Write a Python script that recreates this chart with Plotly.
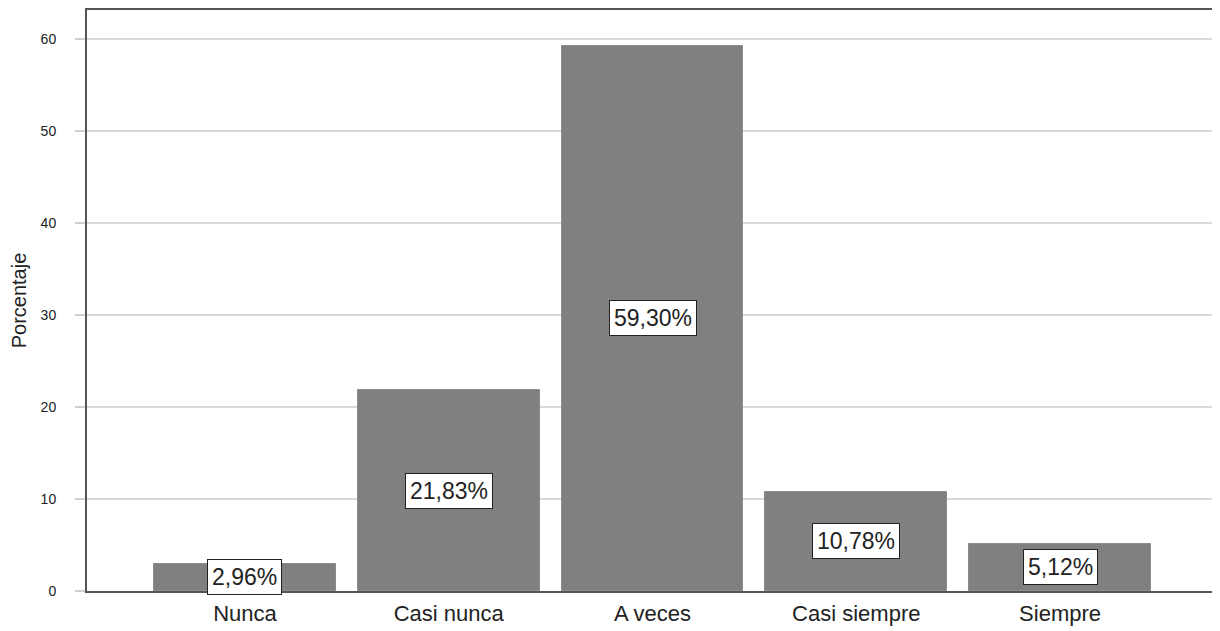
import plotly.graph_objects as go

categories = ["Nunca", "Casi nunca", "A veces", "Casi siempre", "Siempre"]
percentages = [2.96, 21.83, 59.30, 10.78, 5.12]
labels = ["2,96%", "21,83%", "59,30%", "10,78%", "5,12%"]
y_ticks = [0, 10, 20, 30, 40, 50, 60]

FONT = "Liberation Sans, Arial, sans-serif"

fig = go.Figure()
fig.add_trace(go.Bar(
    x=categories, y=percentages,
    marker=dict(color="#808080", line=dict(color="#8c8c8c", width=1)),
    width=0.893,
    hoverinfo="skip",
))

for c, v, t in zip(categories, percentages, labels):
    fig.add_annotation(
        x=c, y=v / 2, xref="x", yref="y", text=t, showarrow=False,
        font=dict(family=FONT, size=23, color="#222222"),
        bgcolor="white", bordercolor="#222222", borderwidth=1, borderpad=4,
    )

fig.update_layout(
    width=1212, height=623,
    margin=dict(l=79, r=2, t=0, b=40),
    paper_bgcolor="white", plot_bgcolor="white",
    showlegend=False,
    font=dict(family=FONT, color="#222222"),
    bargap=0,
)
fig.update_xaxes(
    type="category", range=[-0.775, 4.775],
    showline=True, mirror=True, linecolor="#555555", linewidth=2,
    showgrid=False, ticks="", ticklabelstandoff=2,
    tickfont=dict(family=FONT, size=22, color="#222222"),
)
fig.update_yaxes(
    range=[0, 63.2], tickvals=y_ticks,
    showline=True, mirror=True, linecolor="#555555", linewidth=2,
    showgrid=True, gridcolor="#d9d9d9", gridwidth=1.5,
    zeroline=False,
    ticks="outside", ticklen=10, tickcolor="#d0d0d0", tickwidth=1.5,
    ticklabelstandoff=16,
    tickfont=dict(family=FONT, size=14, color="#222222"),
    title=dict(text="Porcentaje", font=dict(family=FONT, size=20, color="#222222"), standoff=12),
)

fig.write_html("out.html")
